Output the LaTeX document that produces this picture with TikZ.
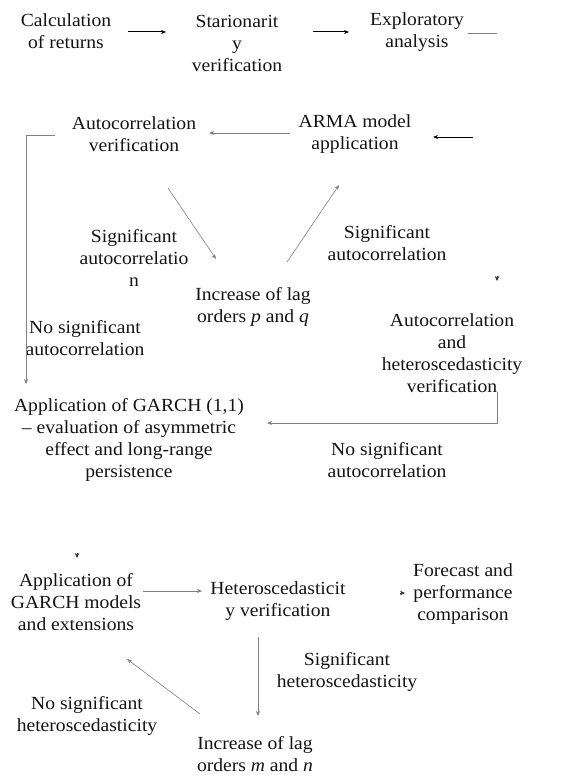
\documentclass[tikz,border=0pt]{standalone}
\usepackage{fontspec}
\setmainfont[FakeStretch=1.06]{Liberation Serif}
\usetikzlibrary{arrows.meta}
\begin{document}
\begin{tikzpicture}[x=1pt,y=-1pt,
  txt/.style={align=center,inner sep=0pt,font=\fontsize{18.5}{22}\selectfont,text=black!92},
  arr/.style={-{Stealth[length=5pt,width=4pt]},draw=black!50,line width=0.6pt},
  tip/.style={-{Stealth[length=5pt,width=4.5pt]},draw=black!80,line width=0.6pt},
  barr/.style={-{Stealth[length=5pt,width=4pt]},draw=black,line width=1pt},
  ln/.style={draw=black!50,line width=0.6pt},
]
\useasboundingbox[fill=white] (0,0) rectangle (569,776);

% text nodes
\node[txt] (calc) at (66,31) {Calculation\\of returns};
\node[txt] (stat) at (237,43) {Starionarit\\y\\verification};
\node[txt] (expl) at (417,32) {Exploratory\\analysis};
\node[txt] (autov) at (134,134) {Autocorrelation\\verification};
\node[txt] (arma) at (355,134) {ARMA model\\application};
\node[txt] (sig1) at (134,258) {Significant\\autocorrelatio\\n};
\node[txt] (lagpq) at (253,307) {Increase of lag\\orders \textit{p} and \textit{q}};
\node[txt] (sig2) at (387,243) {Significant\\autocorrelation};
\node[txt] (nosig1) at (85,338) {No significant\\autocorrelation};
\node[txt] (acht) at (452,353) {Autocorrelation\\and\\heteroscedasticity\\verification};
\node[txt] (garch) at (129,440) {Application of GARCH (1,1)\\– evaluation of asymmetric\\effect and long-range\\persistence};
\node[txt] (nosig2) at (387,460) {No significant\\autocorrelation};
\node[txt] (appg) at (76,602) {Application of\\GARCH models\\and extensions};
\node[txt] (hetv) at (278,601) {Heteroscedasticit\\y verification};
\node[txt] (fore) at (463,594) {Forecast and\\performance\\comparison};
\node[txt] (sighet) at (347,672) {Significant\\heteroscedasticity};
\node[txt] (nosighet) at (87,716) {No significant\\heteroscedasticity};
\node[txt] (lagmn) at (255,754) {Increase of lag\\orders \textit{m} and \textit{n}};

% connector end points
\coordinate (c1a) at (128,32);  \coordinate (c1b) at (166,32);
\coordinate (c2a) at (313,32);  \coordinate (c2b) at (349,32);
\coordinate (c3a) at (468,33);  \coordinate (c3b) at (497,33);
\coordinate (c4a) at (473,137); \coordinate (c4b) at (433,137);
\coordinate (c5a) at (290,133); \coordinate (c5b) at (209,133);
\coordinate (c6a) at (55,135);  \coordinate (c6k) at (26,135); \coordinate (c6b) at (26,384);
\coordinate (c7a) at (168,188); \coordinate (c7b) at (216,259);
\coordinate (c8a) at (287,262); \coordinate (c8b) at (339,185);
\coordinate (c9a) at (497,276); \coordinate (c9b) at (497,281);
\coordinate (c10a) at (497,392); \coordinate (c10k) at (497,423); \coordinate (c10b) at (267,423);
\coordinate (c11a) at (77,553); \coordinate (c11b) at (77,558);
\coordinate (c12a) at (143,591); \coordinate (c12b) at (202,591);
\coordinate (c13a) at (400,593); \coordinate (c13b) at (405,593);
\coordinate (c14a) at (258,637); \coordinate (c14b) at (258,716);
\coordinate (c15a) at (200,714); \coordinate (c15b) at (127,659);

% connectors
\draw[barr] (c1a) -- (c1b);
\draw[barr] (c2a) -- (c2b);
\draw[ln] (c3a) -- (c3b);
\draw[barr] (c4a) -- (c4b);
\draw[arr] (c5a) -- (c5b);
\draw[arr] (c6a) -- (c6k) -- (c6b);
\draw[arr] (c7a) -- (c7b);
\draw[arr] (c8a) -- (c8b);
\draw[tip] (c9a) -- (c9b);
\draw[arr] (c10a) -- (c10k) -- (c10b);
\draw[tip] (c11a) -- (c11b);
\draw[arr] (c12a) -- (c12b);
\draw[tip] (c13a) -- (c13b);
\draw[arr] (c14a) -- (c14b);
\draw[arr] (c15a) -- (c15b);
\end{tikzpicture}
\end{document}
